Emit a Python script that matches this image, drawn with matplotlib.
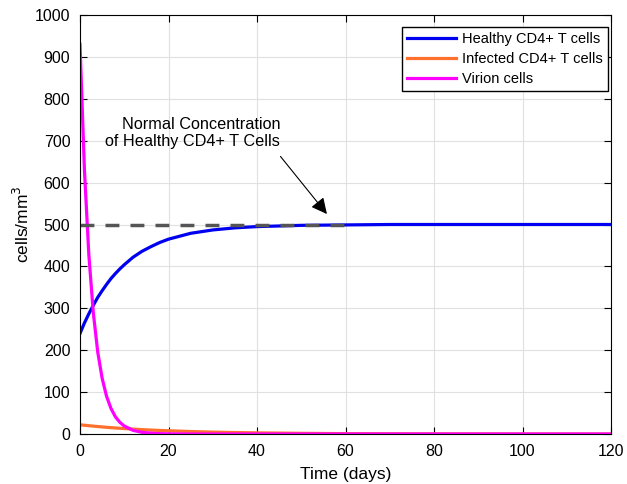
import numpy as np
import matplotlib
matplotlib.use('Agg')
import matplotlib.pyplot as plt

plt.rcParams['font.family'] = ['Liberation Sans', 'DejaVu Sans']

# time points (days) and values (cells/mm^3)
t = [0, 1, 2, 3, 4, 5, 6, 7, 8, 9, 10, 12, 14, 16, 18, 20, 25, 30, 35, 40,
     50, 60, 70, 80, 90, 100, 110, 120]
healthy = [240, 265, 287, 307, 326, 342, 357, 371, 383, 394, 404, 422, 436,
           447, 457, 465, 479, 487, 492, 495, 498, 499, 500, 500, 500, 500, 500, 500]
infected = [22, 20.9, 19.8, 18.8, 17.8, 16.9, 16.0, 15.2, 14.4, 13.7, 13.0, 11.7,
            10.5, 9.4, 8.5, 7.7, 5.9, 4.5, 3.5, 2.7, 1.6, 0.9, 0.5, 0.3, 0.2, 0.1, 0.1, 0.0]
virion = [930, 630, 427, 290, 196, 133, 90, 61, 41, 28, 19, 8.7, 4, 2, 0.9, 0.4,
          0, 0, 0, 0, 0, 0, 0, 0, 0, 0, 0, 0]
normal_level = 500
normal_x = [0, 60]

fig = plt.figure(figsize=(6.27, 4.84), dpi=100)
ax = fig.add_axes([0.1276, 0.1033, 0.8469, 0.8657])

ax.plot(t, healthy, color='#0000f0', lw=2.3, label='Healthy CD4+ T cells')
ax.plot(t, infected, color='#ff6f2e', lw=2.3, label='Infected CD4+ T cells')
ax.plot(t, virion, color='#ff00ff', lw=2.3, label='Virion cells')
ax.plot(normal_x, [normal_level, normal_level], color='#555555', lw=2.5,
        dashes=(4, 3.2))

ax.annotate('Normal Concentration\nof Healthy CD4+ T Cells', xy=(55.8, 525),
            xytext=(45.2, 718), ha='right', va='center', fontsize=11.7,
            multialignment='right', linespacing=1.2,
            arrowprops=dict(arrowstyle='-|>', color='black', lw=0.8,
                            mutation_scale=24, shrinkA=4, shrinkB=0,
                            relpos=(0.97, 0.0)))

ax.set_xlim(0, 120)
ax.set_ylim(0, 1000)
ax.set_xticks(np.arange(0, 121, 20))
ax.set_yticks(np.arange(0, 1001, 100))
ax.grid(True, color='#e0e0e0', lw=0.8)
ax.tick_params(direction='in', top=True, right=True, labelsize=11.5, length=5,
               pad=7)
ax.set_xlabel('Time (days)', fontsize=12.5, labelpad=6)
ax.set_ylabel('cells/mm$^3$', fontsize=12.5, labelpad=2)

ax.legend(loc='upper right', bbox_to_anchor=(0.9943, 0.9714), fontsize=10.5,
          frameon=True, fancybox=False, edgecolor='black', framealpha=1,
          borderpad=0.35, labelspacing=0.4, handlelength=3.4,
          handletextpad=0.4, borderaxespad=0)

plt.savefig('out.png', dpi=100)
